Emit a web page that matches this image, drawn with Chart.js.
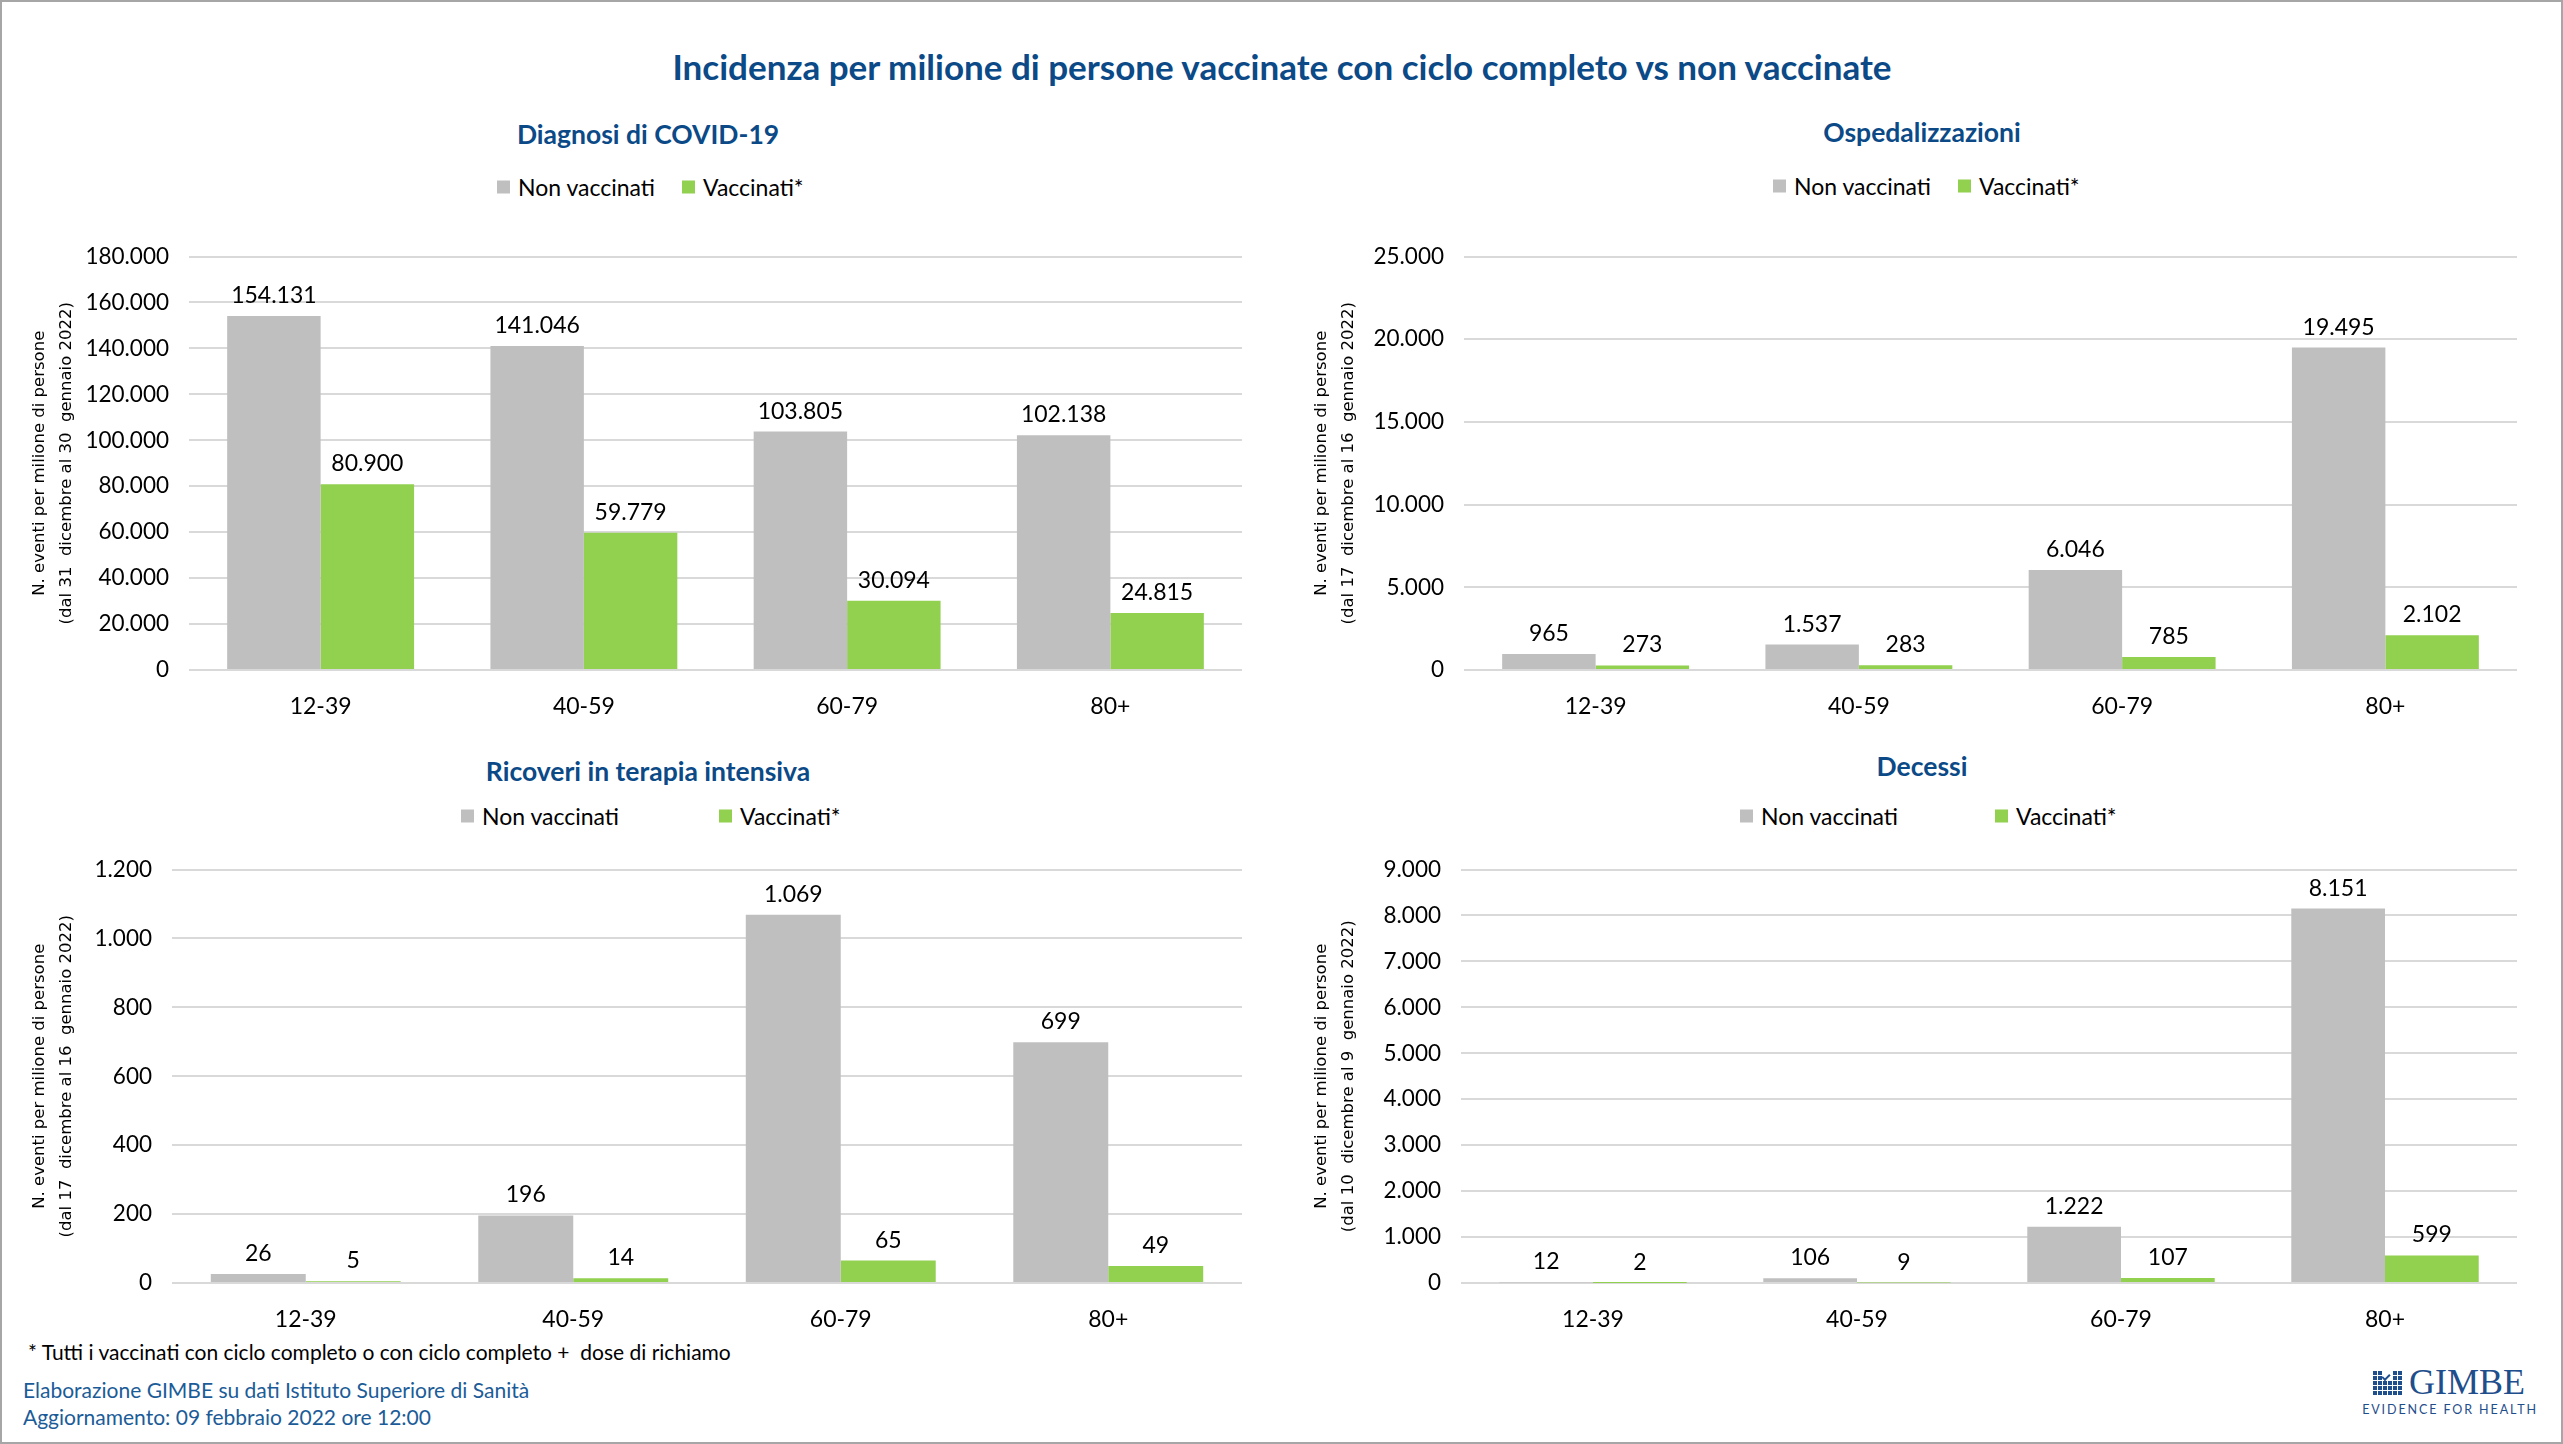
<!DOCTYPE html>
<html>
<head>
<meta charset="utf-8">
<title>Incidenza per milione di persone vaccinate con ciclo completo vs non vaccinate</title>
<script src="https://cdn.jsdelivr.net/npm/chart.js@4.4.0/dist/chart.umd.min.js"></script>
<style>
  body { margin: 0; background: #fff; }
  #page { position: relative; width: 2563px; height: 1444px; overflow: hidden; background: #fff; font-family: Lato, 'Open Sans', sans-serif; }
  .frame { position: absolute; left: 0; top: 0; width: 2563px; height: 1444px; box-sizing: border-box; border: 2px solid #a6a6a6; pointer-events: none; }
  .t { position: absolute; white-space: pre; line-height: 1; }
  .c { transform: translate(-50%, -50%); }
  .l { transform: translateY(-50%); }
  .main-title { font-size: 35px; font-weight: 700; color: #0b4a87; }
  .sub-title { font-size: 26.5px; font-weight: 700; color: #0b4a87; }
  .leg { position: absolute; display: flex; align-items: center; transform: translateY(-50%); font-size: 23px; color: #000; white-space: pre; line-height: 1; }
  .leg i { display: inline-block; width: 13px; height: 13px; margin-right: 8px; }
  .note { font-size: 21px; color: #000; }
  .src { font-size: 21px; color: #1b5c98; }
  canvas { position: absolute; }
  .logo-grid { position: absolute; left: 2373px; top: 1371px; display: grid; grid-template-columns: repeat(6, 3.8px); grid-auto-rows: 3.8px; gap: 1.2px; }
  .logo-grid span { background: #1f4e8c; }
  .logo-grid span.w { background: #fff; }
  .logo-check { position: absolute; left: 2382px; top: 1374px; width: 6px; height: 3px; border-left: 2px solid #1f4e8c; border-bottom: 2px solid #1f4e8c; transform: rotate(-45deg); }
  .logo-name { font-family: 'Liberation Serif', 'DejaVu Serif', serif; font-size: 36px; color: #1f4e8c; }
  .logo-tag { font-family: Lato, sans-serif; font-size: 12.5px; letter-spacing: 1.9px; color: #1f4e8c; }
</style>
</head>
<body>
<div id="page">
  <div class="t c main-title" style="left:1282px; top:66px;">Incidenza per milione di persone vaccinate con ciclo completo vs non vaccinate</div>

  <div class="t c sub-title" style="left:648px; top:134px;">Diagnosi di COVID-19</div>
  <div class="leg" style="left:497px; top:187px;"><i style="background:#bfbfbf"></i>Non vaccinati</div>
  <div class="leg" style="left:682px; top:187px;"><i style="background:#92d050"></i>Vaccinati*</div>

  <div class="t c sub-title" style="left:1922px; top:132px;">Ospedalizzazioni</div>
  <div class="leg" style="left:1773px; top:186px;"><i style="background:#bfbfbf"></i>Non vaccinati</div>
  <div class="leg" style="left:1958px; top:186px;"><i style="background:#92d050"></i>Vaccinati*</div>

  <div class="t c sub-title" style="left:648px; top:771px;">Ricoveri in terapia intensiva</div>
  <div class="leg" style="left:461px; top:816px;"><i style="background:#bfbfbf"></i>Non vaccinati</div>
  <div class="leg" style="left:719px; top:816px;"><i style="background:#92d050"></i>Vaccinati*</div>

  <div class="t c sub-title" style="left:1922px; top:766px;">Decessi</div>
  <div class="leg" style="left:1740px; top:816px;"><i style="background:#bfbfbf"></i>Non vaccinati</div>
  <div class="leg" style="left:1995px; top:816px;"><i style="background:#92d050"></i>Vaccinati*</div>

  <div class="t l note" style="left:28px; top:1351px;">* Tutti i vaccinati con ciclo completo o con ciclo completo +  dose di richiamo</div>
  <div class="t l src" style="left:23px; top:1389px;">Elaborazione GIMBE su dati Istituto Superiore di Sanità</div>
  <div class="t l src" style="left:23px; top:1416px;">Aggiornamento: 09 febbraio 2022 ore 12:00</div>

  <canvas id="chartDiagnosi" width="1282" height="520" style="left:0px; top:223px;"></canvas>
  <canvas id="chartOsped" width="1281" height="520" style="left:1282px; top:223px;"></canvas>
  <canvas id="chartTI" width="1282" height="520" style="left:0px; top:836px;"></canvas>
  <canvas id="chartDecessi" width="1281" height="520" style="left:1282px; top:836px;"></canvas>

  <div class="logo-grid" id="logoGrid"></div>
  <div class="logo-check"></div>
  <div class="t logo-name" style="left:2409px; top:1364px;">GIMBE</div>
  <div class="t c logo-tag" style="left:2450px; top:1410px;">EVIDENCE FOR HEALTH</div>

  <div class="frame"></div>
</div>

<script>
// Age groups (x axis)
const categories = ['12-39', '40-59', '60-79', '80+'];
const seriesNames = ['Non vaccinati', 'Vaccinati*'];

// Diagnosi di COVID-19
const diagnosiNonVacc = [154131, 141046, 103805, 102138];
const diagnosiVacc = [80900, 59779, 30094, 24815];
// Ospedalizzazioni
const ospedNonVacc = [965, 1537, 6046, 19495];
const ospedVacc = [273, 283, 785, 2102];
// Ricoveri in terapia intensiva
const tiNonVacc = [26, 196, 1069, 699];
const tiVacc = [5, 14, 65, 49];
// Decessi
const decessiNonVacc = [12, 106, 1222, 8151];
const decessiVacc = [2, 9, 107, 599];

// Y axis ranges: max and step for each chart
const diagnosiAxis = [180000, 20000];
const ospedAxis = [25000, 5000];
const tiAxis = [1200, 200];
const decessiAxis = [9000, 1000];

// Periods shown in the y axis titles
const diagnosiPeriodo = '(dal 31  dicembre al 30  gennaio 2022)';
const ospedPeriodo = '(dal 17  dicembre al 16  gennaio 2022)';
const tiPeriodo = '(dal 17  dicembre al 16  gennaio 2022)';
const decessiPeriodo = '(dal 10  dicembre al 9  gennaio 2022)';

const GREY = '#bfbfbf';
const GREEN = '#92d050';

// Italian thousands separator
function fmt(v) {
    return String(v).replace(/\B(?=(\d{3})+(?!\d))/g, '.');
}

// Build the logo squares
const grid = document.getElementById('logoGrid');
for (let r = 0; r < 5; r++) {
    for (let c = 0; c < 6; c++) {
        const s = document.createElement('span');
        if (r < 2 && (c === 2 || c === 3)) s.className = 'w';
        grid.appendChild(s);
    }
}

/**
 * Value labels above every bar
 */
const valueLabels = {
    id: 'valueLabels',
    afterDatasetsDraw(chart) {
        const ctx = chart.ctx;
        ctx.save();
        ctx.font = '23px Lato';
        ctx.fillStyle = '#000';
        ctx.textAlign = 'center';
        ctx.textBaseline = 'alphabetic';
        chart.data.datasets.forEach(function(ds, i) {
            chart.getDatasetMeta(i).data.forEach(function(bar, j) {
                ctx.fillText(fmt(ds.data[j]), bar.x, bar.y - 13);
            });
        });
        ctx.restore();
    }
};

/**
 * Create one grouped bar chart
 */
function makeChart(id, nonVacc, vacc, axis, periodo, yWidth, padRight) {
    return new Chart(document.getElementById(id), {
        type: 'bar',
        data: {
            labels: categories,
            datasets: [{
                label: seriesNames[0],
                data: nonVacc,
                backgroundColor: GREY
            }, {
                label: seriesNames[1],
                data: vacc,
                backgroundColor: GREEN
            }]
        },
        options: {
            responsive: false,
            animation: false,
            events: [],
            categoryPercentage: 0.71,
            barPercentage: 1.0,
            layout: { padding: { top: 30, right: padRight, bottom: 0, left: 0 } },
            plugins: {
                legend: { display: false },
                title: { display: false },
                tooltip: { enabled: false }
            },
            scales: {
                x: {
                    grid: { display: false },
                    border: { display: false },
                    ticks: { color: '#000', font: { family: 'Lato', size: 23 }, padding: 15, maxRotation: 0 },
                    afterFit: function(s) { s.height = 73; }
                },
                y: {
                    min: 0,
                    max: axis[0],
                    border: { display: false },
                    grid: { color: '#d9d9d9', lineWidth: 2, drawTicks: false },
                    ticks: { stepSize: axis[1], color: '#000', font: { family: 'Lato', size: 22.5 }, padding: 20,
                        callback: function(v) { return fmt(v); } },
                    title: {
                        display: true,
                        text: ['N. eventi per milione di persone', periodo],
                        color: '#000',
                        font: { family: "'DejaVu Sans'", size: 16.5, lineHeight: 1.65 },
                        padding: { top: 26, bottom: 0 }
                    },
                    afterFit: function(s) { s.width = yWidth; }
                }
            }
        },
        plugins: [valueLabels]
    });
}

makeChart('chartDiagnosi', diagnosiNonVacc, diagnosiVacc, diagnosiAxis, diagnosiPeriodo, 189, 40);
makeChart('chartOsped', ospedNonVacc, ospedVacc, ospedAxis, ospedPeriodo, 182, 46);
makeChart('chartTI', tiNonVacc, tiVacc, tiAxis, tiPeriodo, 172, 40);
makeChart('chartDecessi', decessiNonVacc, decessiVacc, decessiAxis, decessiPeriodo, 179, 46);
</script>
</body>
</html>
